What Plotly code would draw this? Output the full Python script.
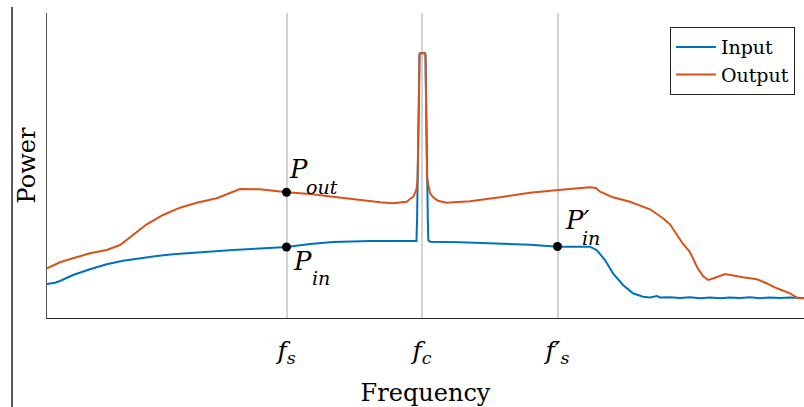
import plotly.graph_objects as go

# ---- data (arbitrary frequency / power units) ----
freq_out = [0, 13, 26, 43, 59.7, 73, 86, 99.7, 116, 133, 149.7, 163, 169.7, 193, 213, 239.7, 263, 286,
            313, 323, 333, 346, 359.7, 363, 366.3, 368.5, 369.7, 370.5, 371.3, 372, 372.5, 373, 378,
            378.5, 379, 379.5, 380, 381.5, 383, 386, 391, 399.7, 423, 453, 483, 511.3, 543, 549, 553,
            566, 583, 603, 616, 623, 636, 643, 650, 656, 661, 666, 678, 696, 710, 719, 730, 743, 751, 757]
power_out = [49.7, 55.7, 59.7, 64.7, 68, 73, 83, 93.7, 103, 110.3, 115.3, 118, 119.7, 129, 128.7, 125.7, 124, 121.3,
             118, 116.3, 115.7, 114.7, 116.3, 119, 121.3, 126, 130, 138, 168, 218, 263, 264.7, 264.7,
             263, 218, 168, 141, 132, 125, 121, 117.3, 115.3, 116.7, 120.7, 125.3, 128, 130.7, 130, 126.3,
             120.7, 116.3, 108.7, 99.7, 93.7, 74, 66, 51, 42, 38, 39.5, 44, 40.7, 38.7, 35, 29.7, 24.7, 19.7, 19.7]

freq_in = [0, 8, 13, 26, 43, 59.7, 76, 93, 109.7, 126, 143, 163, 186, 213, 239.7, 263, 286, 323, 353,
           369.5, 370.1, 370.5, 371.3, 372, 372.5, 373, 378, 378.5, 379, 379.5, 380, 380.8, 381.3, 383,
           413, 446, 483, 511.3, 543, 549.7, 558,
           566, 576, 586, 596, 603, 610, 613, 623, 633, 643, 653, 663, 673, 683, 693, 703, 713, 723,
           733, 743, 757]
power_in = [34, 35.3, 37, 43, 48.7, 53.7, 57.3, 60, 62, 63.7, 65, 66.7, 68, 69.5, 71, 74, 76, 77, 77,
            77, 100, 138, 168, 218, 263, 264.7, 264.7, 263, 218, 168, 141, 100, 78, 76.3,
            75.7, 74.7, 73.3, 71.3, 71.3, 68, 58,
            44.7, 33, 24.7, 21.3, 20.5, 22, 20.5, 20.7, 20, 20.8, 19.8, 20.6, 19.7, 20.5, 19.9, 20.7, 19.8, 20.4,
            19.9, 20.5, 20]

tick_vals = [239.5, 375, 510.5]
tick_text = ["<i>f</i><sub><i>s</i></sub>", "<i>f</i><sub><i>c</i></sub>", "<i>f′</i><sub><i>s</i></sub>"]

marker_freq = [239.5, 239.5, 510.5]
marker_power = [125.7, 71, 71.5]

FONT = "DejaVu Serif"
BLUE = "#0072BD"
ORANGE = "#D95319"

fig = go.Figure()
fig.add_trace(go.Scatter(x=freq_in, y=power_in, mode="lines", name="Input",
                         line=dict(color=BLUE, width=2)))
fig.add_trace(go.Scatter(x=freq_out, y=power_out, mode="lines", name="Output",
                         line=dict(color=ORANGE, width=2)))
fig.add_trace(go.Scatter(x=marker_freq, y=marker_power, mode="markers", showlegend=False,
                         marker=dict(color="black", size=9)))

# point labels: (x, y, main text, main size, main xshift, main yshift, sub text, sub xshift, sub yshift)
labels = [
    (marker_freq[0], marker_power[0], "<i>P</i>", 26, 0, 23, "<i>out</i>", 17, 5),
    (marker_freq[1], marker_power[1], "<i>P</i>", 26, 4, -14, "<i>in</i>", 23, -31),
    (marker_freq[2], marker_power[2], "<i>P′</i>", 26, 5, 27, "<i>in</i>", 22, 9),
]
for (fx, py, main, mx, mxs, mys, sub, sxs, sys_) in labels:
    fig.add_annotation(x=fx, y=py, text=main, showarrow=False, xanchor="left", yanchor="middle",
                       xshift=mxs, yshift=mys, font=dict(family=FONT, size=mx, color="black"))
    fig.add_annotation(x=fx, y=py, text=sub, showarrow=False, xanchor="left", yanchor="middle",
                       xshift=sxs, yshift=sys_, font=dict(family=FONT, size=19, color="black"))

fig.add_shape(type="line", xref="paper", yref="paper", x0=-0.0462, x1=-0.0462, y0=-0.292, y1=1.02,
              line=dict(color="black", width=1.3))

fig.update_layout(
    width=804, height=407,
    margin=dict(l=47, r=0, t=13, b=89, autoexpand=False),
    paper_bgcolor="white", plot_bgcolor="white",
    font=dict(family=FONT, color="black"),
    showlegend=True,
    legend=dict(x=0.988, xanchor="right", y=0.954, yanchor="top",
                bgcolor="white", bordercolor="#262626", borderwidth=1,
                font=dict(family=FONT, size=19, color="black"),
                tracegroupgap=0, itemwidth=40),
)
fig.update_xaxes(range=[0, 757], tickvals=tick_vals, ticktext=tick_text, ticks="",
                 showgrid=True, gridcolor="#d3d3d3", gridwidth=1.5, automargin=False,
                 showline=True, linecolor="#262626", linewidth=1.3, zeroline=False,
                 ticklabelstandoff=10,
                 tickfont=dict(family=FONT, size=25, color="black"),
                 title=dict(text="Frequency", font=dict(family=FONT, size=24, color="black"), standoff=17))
fig.update_yaxes(range=[0, 305], showticklabels=False, ticks="", showgrid=False, automargin=False,
                 showline=True, linecolor="#555555", linewidth=1.3, zeroline=False,
                 title=dict(text="Power", font=dict(family=FONT, size=24, color="black"), standoff=3))

fig.write_html("out.html", config={"displayModeBar": False},
               post_script="document.body.style.margin='0';document.body.style.padding='0';")
